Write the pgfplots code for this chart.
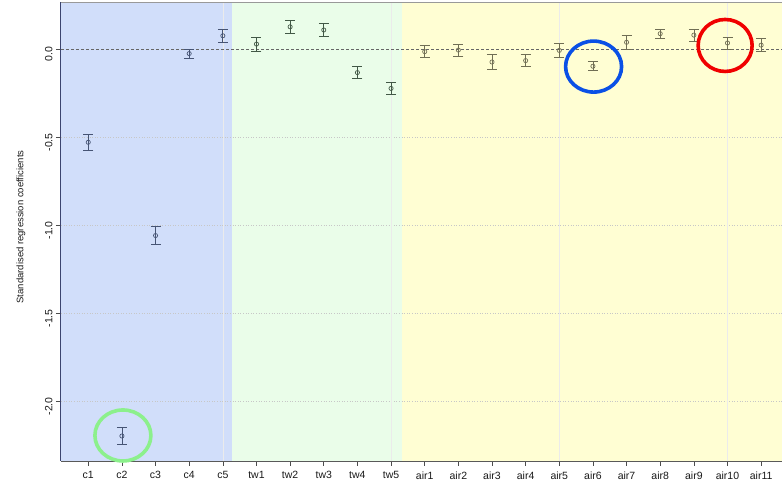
\documentclass[border=0pt]{standalone}
\usepackage{fontspec}
\setmainfont{Liberation Sans}
\usepackage{pgfplots}
\pgfplotsset{compat=1.18}
\usepackage{pgfplotstable}

% region shades
\definecolor{bgC}{RGB}{209,222,250}
\definecolor{bgT}{RGB}{234,253,233}
\definecolor{bgA}{RGB}{255,254,211}
% point / error bar colours per group
\definecolor{ptC}{RGB}{70,84,116}
\definecolor{ptT}{RGB}{66,88,70}
\definecolor{ptA}{RGB}{112,110,84}
% frame
\definecolor{spineL}{RGB}{60,68,110}
% highlight rings
\definecolor{ringG}{RGB}{140,240,140}
\definecolor{ringB}{RGB}{10,80,230}
\definecolor{ringR}{RGB}{240,0,0}

% standardised coefficients and half-widths of the intervals
\pgfplotstableread{
x y e
0 -0.528 0.046
1 -2.197 0.047
2 -1.058 0.052
3 -0.024 0.026
4  0.077 0.039
}\climate
\pgfplotstableread{
x y e
5  0.030 0.040
6  0.128 0.038
7  0.110 0.037
8 -0.132 0.035
9 -0.222 0.035
}\tapwater
\pgfplotstableread{
x y e
10 -0.013 0.035
11 -0.004 0.034
12 -0.072 0.041
13 -0.064 0.033
14 -0.006 0.038
15 -0.096 0.026
16  0.040 0.042
17  0.089 0.026
18  0.081 0.035
19  0.036 0.034
20  0.024 0.036
}\airq

\pgfplotsset{
  coef/.style={only marks, mark=o, mark size=2.1pt, line width=0.7pt,
    color=#1,
    error bars/.cd, y dir=both, y explicit,
    error bar style={line width=0.7pt, color=#1},
    error mark=|, error mark options={mark size=5pt, line width=0.7pt, color=#1}},
}

\begin{document}
\begin{tikzpicture}
\path[use as bounding box] (0,0) rectangle (782pt,487pt);
\begin{axis}[
  at={(61pt,26pt)}, anchor=south west,
  scale only axis, width=721pt, height=459pt,
  xmin=-0.81, xmax=20.62, ymin=-2.339, ymax=0.269,
  clip=false,
  axis line style={draw=none},
  xtick pos=bottom, ytick pos=left,
  tick align=outside, major tick length=5pt,
  tick style={black!70, line width=0.6pt},
  xtick={0,...,20},
  xticklabels={c1,c2,c3,c4,c5,tw1,tw2,tw3,tw4,tw5,air1,air2,air3,air4,air5,air6,air7,air8,air9,air10,air11},
  xticklabel style={font=\fontsize{10.5}{12}\selectfont, text=black!90, yshift=-2pt},
  ytick={-2,-1.5,-1,-0.5,0},
  yticklabels={-2.0,-1.5,-1.0,-0.5,0.0},
  yticklabel style={font=\fontsize{10.5}{12}\selectfont, text=black!90, rotate=90, anchor=south, xshift=-5pt},
  ylabel={Standardised regression coefficients},
  ylabel style={font=\fontsize{9.5}{11}\selectfont, text=black!90, at={(axis description cs:-0.0555,0.51)}, anchor=center},
]
% group backgrounds
\fill[bgC] (axis cs:-0.81,-2.339) rectangle (axis cs:4.26,0.269);
\fill[bgT] (axis cs:4.26,-2.339) rectangle (axis cs:9.34,0.269);
\fill[bgA] (axis cs:9.34,-2.339) rectangle (axis cs:20.62,0.269);
% grid
\pgfplotsinvokeforeach{-2,-1.5,-1,-0.5}{
  \draw[black!22, dotted, line width=0.6pt] (axis cs:-0.81,#1) -- (axis cs:20.62,#1);
}
\pgfplotsinvokeforeach{4,9,14,19}{
  \draw[black!8, line width=0.5pt] (axis cs:#1,-2.339) -- (axis cs:#1,0.269);
}
\draw[black!60, dash pattern=on 3pt off 2pt, line width=0.6pt] (axis cs:-0.81,0) -- (axis cs:20.62,0);
% frame
\draw[black!40, line width=0.8pt] (axis cs:-0.81,0.269) -- (axis cs:20.62,0.269);
\draw[black!65, line width=0.8pt] (axis cs:-0.81,-2.339) -- (axis cs:20.62,-2.339);
\draw[spineL, line width=1pt] (axis cs:-0.81,-2.339) -- (axis cs:-0.81,0.269);

\addplot[coef=ptC] table[x=x, y=y, y error=e] {\climate};
\addplot[coef=ptT] table[x=x, y=y, y error=e] {\tapwater};
\addplot[coef=ptA] table[x=x, y=y, y error=e] {\airq};

% highlighted estimates
\draw[ringG, line width=3.6pt] (axis cs:1.03,-2.194) ellipse [x radius=28pt, y radius=25.5pt];
\draw[ringB, line width=3.6pt] (axis cs:15.02,-0.098) ellipse [x radius=28pt, y radius=25.5pt];
\draw[ringR, line width=3.6pt] (axis cs:18.93,0.022) ellipse [x radius=27pt, y radius=26pt];
\end{axis}
\end{tikzpicture}
\end{document}
